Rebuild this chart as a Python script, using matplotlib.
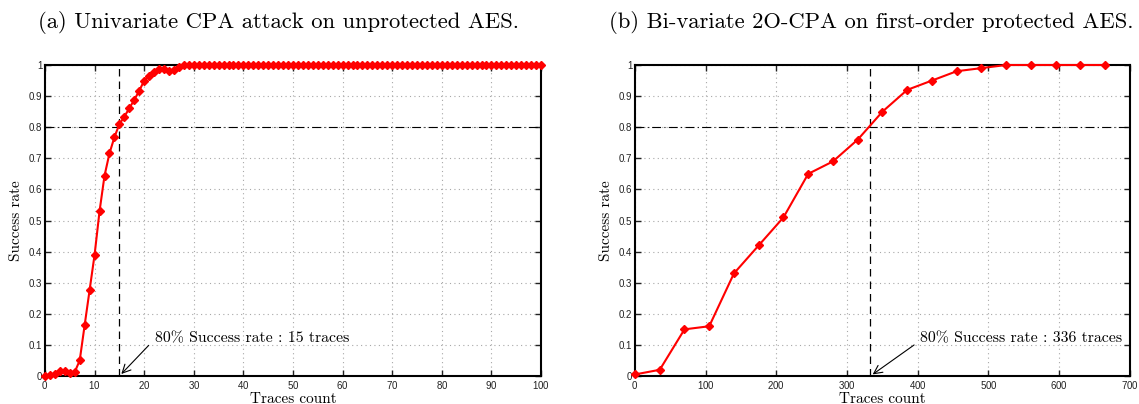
import numpy as np
import matplotlib
matplotlib.use('Agg')
import matplotlib.pyplot as plt

plt.rcParams['font.family'] = ['Liberation Sans', 'DejaVu Sans']
plt.rcParams['axes.formatter.use_mathtext'] = True

SERIF = 'cmr10'

# (a) univariate CPA, unprotected AES
traces_a = list(range(0, 101))
sr_a = [0.0, 0.003, 0.005, 0.016, 0.016, 0.011, 0.013, 0.05, 0.164, 0.277,
        0.39, 0.53, 0.644, 0.716, 0.768, 0.81, 0.834, 0.861, 0.888, 0.917,
        0.95, 0.966, 0.976, 0.988, 0.988, 0.98, 0.985, 0.994] + [1.0] * 73
thr_a = 15

# (b) bi-variate 2O-CPA, first-order protected AES
traces_b = [0, 35, 70, 105, 140, 175, 210, 245, 280, 315,
            350, 385, 420, 455, 490, 525, 560, 595, 630, 665]
sr_b = [0.005, 0.02, 0.15, 0.16, 0.33, 0.42, 0.51, 0.65, 0.69, 0.76,
        0.85, 0.92, 0.95, 0.98, 0.99, 1.0, 1.0, 1.0, 1.0, 1.0]
thr_b = 333
thr_b_label = 336


def panel(ax, x, y, xmax, xstep, thr, text, text_xy, arrow_from):
    ax.axhline(0.8, color='black', ls=(0, (8, 3, 1, 3)), lw=0.8, zorder=2)
    ax.axvline(thr, color='black', ls=(0, (6, 4)), lw=0.9, zorder=2)
    ax.plot(x, y, color='red', lw=1.5, marker='D', ms=4, mec='red',
            mfc='red', zorder=3, clip_on=False)
    ax.set_xlim(0, xmax)
    ax.set_ylim(0, 1)
    ax.set_xticks(np.arange(0, xmax + 1, xstep))
    ax.set_yticks(np.arange(0, 1.01, 0.1))
    ax.set_yticklabels(['0', '0.1', '0.2', '0.3', '0.4', '0.5', '0.6',
                        '0.7', '0.8', '0.9', '1'])
    ax.grid(True, ls=(0, (1, 3)), color='#a8a8a8', lw=0.8)
    ax.tick_params(direction='in', top=True, right=True, labelsize=7,
                   length=4, width=1, pad=2, colors='#222222')
    for s in ax.spines.values():
        s.set_linewidth(1.5)
    ax.set_xlabel('Traces count', family=SERIF, fontsize=11, labelpad=1)
    ax.set_ylabel('Success rate', family=SERIF, fontsize=11, labelpad=4)
    ax.annotate('', xy=(thr, 0), xytext=arrow_from,
                arrowprops=dict(arrowstyle='->', color='black', lw=0.8,
                                mutation_scale=15), zorder=4)
    ax.text(text_xy[0], text_xy[1], text, family=SERIF, fontsize=11.4,
            va='center', ha='left', zorder=4)


fig = plt.figure(figsize=(11.39, 4.04), dpi=100)
ax1 = fig.add_axes([0.0395, 0.0693, 0.4355, 0.7698])
ax2 = fig.add_axes([0.5575, 0.0693, 0.4345, 0.7698])

panel(ax1, traces_a, sr_a, 100, 10, thr_a,
      '80%% Success rate : %d traces' % thr_a, (22.2, 0.12), (21.3, 0.105))
panel(ax2, traces_b, sr_b, 700, 100, thr_b,
      '80%% Success rate : %d traces' % thr_b_label, (403, 0.12), (398, 0.105))

fig.text(0.2445, 0.9455, '(a) Univariate CPA attack on unprotected AES.',
         family=SERIF, fontsize=16.3, ha='center', va='center')
fig.text(0.765, 0.9455, '(b) Bi-variate 2O-CPA on first-order protected AES.',
         family=SERIF, fontsize=16.3, ha='center', va='center')

fig.savefig('out.png', dpi=100)
